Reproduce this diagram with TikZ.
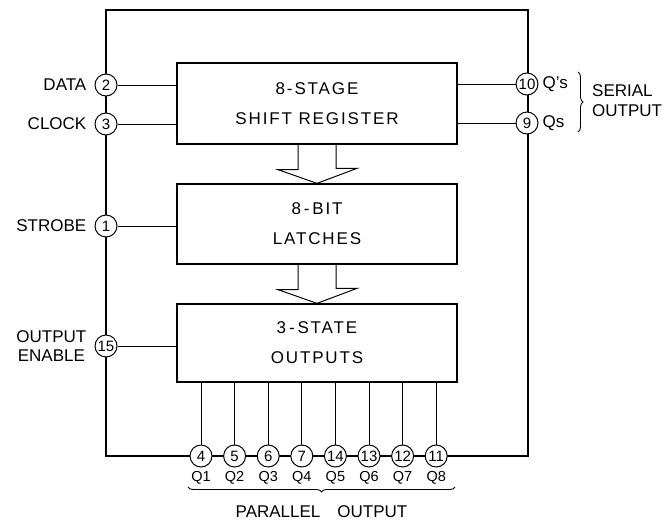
\documentclass[tikz,border=0pt]{standalone}
\usepackage{fontspec}
\setmainfont{Liberation Sans}
\newfontfamily\boxfont[LetterSpace=11]{Liberation Sans}
\usetikzlibrary{positioning,decorations.pathreplacing}

\begin{document}
\begin{tikzpicture}[x=1pt,y=-1pt,
    block/.style={draw, line width=1.3pt, minimum width=280pt, inner sep=0pt, align=center,
        font=\boxfont\fontsize{17}{30}\selectfont},
    pin/.style={draw, circle, line width=1pt, fill=white, minimum size=22pt, inner sep=0pt,
        font=\fontsize{15}{15}\selectfont},
    lbl/.style={inner sep=0pt, font=\fontsize{17}{19}\selectfont},
    qlbl/.style={inner sep=0pt, font=\fontsize{14.5}{14.5}\selectfont},
    wire/.style={line width=0.9pt},
    brc/.style={line width=0.9pt, decorate, decoration={brace, amplitude=5pt}}]
        \useasboundingbox (0,0) rectangle (666,523);

        % package outline
        \draw[line width=1.8pt] (106,10) rectangle (528,456);

        % internal blocks
        \node[block, minimum height=81pt] (sr) at (317,103.5) {8-STAGE\\SHIFT REGISTER};
        \node[block, minimum height=80pt] (lt) at (317,224) {8\,-\,BIT\\LATCHES};
        \node[block, minimum height=78pt] (op) at (317,343) {3\,-\,STATE\\OUTPUTS};

        % hollow arrows between blocks
        \draw[line width=1pt] ([xshift=-19pt]sr.south) -- ++(0,25) -- ++(-20,0) -- (lt.north)
            -- ++(40,-15) -- ++(-21,0) -- ([xshift=19pt]sr.south);
        \draw[line width=1pt] ([xshift=-19pt]lt.south) -- ++(0,25) -- ++(-20,0) -- (op.north)
            -- ++(40,-15) -- ++(-21,0) -- ([xshift=19pt]lt.south);

        % pins on the left and right
        \node[pin] (p2) at (106,85) {2};
        \node[pin] (p3) at (106,124) {3};
        \node[pin] (p1) at (106,226) {1};
        \node[pin] (p15) at (106,346) {15};
        \node[pin] (p10) at (527,84) {10};
        \node[pin] (p9) at (527,123) {9};

        \draw[wire] (p2) -- (p2 -| sr.west);
        \draw[wire] (p3) -- (p3 -| sr.west);
        \draw[wire] (p1) -- (p1 -| lt.west);
        \draw[wire] (p15) -- (p15 -| op.west);
        \draw[wire] (p10) -- (p10 -| sr.east);
        \draw[wire] (p9) -- (p9 -| sr.east);

        \node[lbl, left=8pt of p2] (ldata) {DATA};
        \node[lbl, left=8pt of p3] (lclock) {CLOCK};
        \node[lbl, left=8pt of p1] (lstrobe) {STROBE};
        \node[lbl, left=8pt of p15, align=center] (lenable) {OUTPUT\\ENABLE};
        \node[lbl, right=4pt of p10] (lqs) {Q’s};
        \node[lbl, right=4pt of p9] (lq) {Qs};

        % serial output brace
        \coordinate (sb1) at (578,72);
        \coordinate (sb2) at (578,132);
        \coordinate (sbt) at (584,101);
        \draw[brc] (sb1) -- (sb2);
        \node[lbl, right=8pt of sbt, align=left, font=\fontsize{17}{20}\selectfont] (lserial) {SERIAL\\OUTPUT};

        % parallel outputs
        \node[pin] (p4) at (201,456) {4};
        \node[pin] (p5) at (234.6,456) {5};
        \node[pin] (p6) at (268.2,456) {6};
        \node[pin] (p7) at (301.8,456) {7};
        \node[pin] (p14) at (335.4,456) {14};
        \node[pin] (p13) at (369,456) {13};
        \node[pin] (p12) at (402.6,456) {12};
        \node[pin] (p11) at (436.2,456) {11};

        \draw[wire] (p4) -- (p4 |- op.south);
        \draw[wire] (p5) -- (p5 |- op.south);
        \draw[wire] (p6) -- (p6 |- op.south);
        \draw[wire] (p7) -- (p7 |- op.south);
        \draw[wire] (p14) -- (p14 |- op.south);
        \draw[wire] (p13) -- (p13 |- op.south);
        \draw[wire] (p12) -- (p12 |- op.south);
        \draw[wire] (p11) -- (p11 |- op.south);

        \node[qlbl, below=4pt of p4] (q1) {Q1};
        \node[qlbl, below=4pt of p5] (q2) {Q2};
        \node[qlbl, below=4pt of p6] (q3) {Q3};
        \node[qlbl, below=4pt of p7] (q4) {Q4};
        \node[qlbl, below=4pt of p14] (q5) {Q5};
        \node[qlbl, below=4pt of p13] (q6) {Q6};
        \node[qlbl, below=4pt of p12] (q7) {Q7};
        \node[qlbl, below=4pt of p11] (q8) {Q8};

        \coordinate (pb1) at (455,487);
        \coordinate (pb2) at (188,487);
        \draw[brc] (pb1) -- (pb2);
        \node[lbl] (lparallel) at (321.5,512) {PARALLEL\quad OUTPUT};
    \end{tikzpicture}
\end{document}
